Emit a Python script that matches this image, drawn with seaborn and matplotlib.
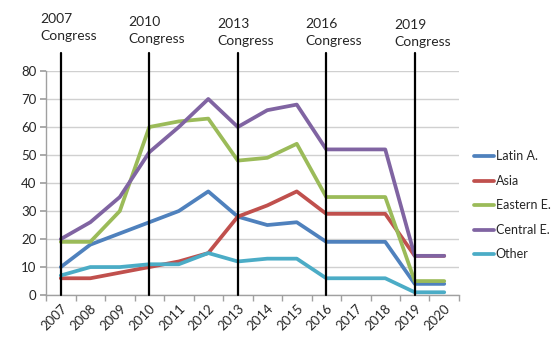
import numpy as np
import pandas as pd
import matplotlib
matplotlib.use("Agg")
import matplotlib.pyplot as plt
import seaborn as sns

# data
years = list(range(2007, 2021))
latin_a = [10, 18, 22, 26, 30, 37, 28, 25, 26, 19, 19, 19, 4, 4]
asia = [6, 6, 8, 10, 12, 15, 28, 32, 37, 29, 29, 29, 14, 14]
eastern_e = [19, 19, 30, 60, 62, 63, 48, 49, 54, 35, 35, 35, 5, 5]
central_e = [20, 26, 35, 51, 60, 70, 60, 66, 68, 52, 52, 52, 14, 14]
other = [7, 10, 10, 11, 11, 15, 12, 13, 13, 6, 6, 6, 1, 1]

series_names = ["Latin A.", "Asia", "Eastern E.", "Central E.", "Other"]
colors = ["#4F81BD", "#C0504D", "#9BBB59", "#8064A2", "#4BACC6"]
congress_years = [2007, 2010, 2013, 2016, 2019]

df = pd.DataFrame({"year": years, "Latin A.": latin_a, "Asia": asia,
                   "Eastern E.": eastern_e, "Central E.": central_e, "Other": other})
long_df = df.melt(id_vars="year", var_name="region", value_name="count")

sns.set_theme(style="white")
plt.rcParams["font.family"] = ["Lato", "DejaVu Sans"]

fig = plt.figure(figsize=(5.55, 3.38), dpi=100)
ax = fig.add_axes([0.083, 0.127, 0.744, 0.663])

sns.lineplot(data=long_df, x="year", y="count", hue="region", hue_order=series_names,
             palette=colors, linewidth=2.7, ax=ax)

ax.set_xlim(2006.5, 2020.5)
ax.set_ylim(0, 80)
ax.set_yticks(range(0, 81, 10))
ax.set_xticks(years)
ax.set_xticklabels([str(y) for y in years], rotation=45, ha="right",
                   rotation_mode="anchor", fontsize=9.5)
ax.set_xticks(np.arange(2006.5, 2021, 1), minor=True)
ax.tick_params(axis="x", which="major", length=0, pad=5)
ax.tick_params(axis="x", which="minor", length=4, color="#A0A0A0", bottom=True)
ax.tick_params(axis="y", length=4, color="#A0A0A0", labelsize=9.5, left=True, pad=3)
ax.set_xlabel("")
ax.set_ylabel("")
ax.yaxis.grid(True, color="#D0D0D0", linewidth=1)
ax.set_axisbelow(True)
for side in ["top", "right"]:
    ax.spines[side].set_visible(False)
for side in ["left", "bottom"]:
    ax.spines[side].set_color("#A0A0A0")
    ax.spines[side].set_linewidth(1)

# congress markers
text_y = [100.8, 99.8, 98.9, 98.9, 98.5]
for cy, ty in zip(congress_years, text_y):
    ax.plot([cy, cy], [0, 86.5], color="black", linewidth=1.6, clip_on=False, zorder=5)
    ax.text(cy - 0.7, ty, f"{cy}\nCongress", fontsize=10, ha="left", va="top",
            linespacing=1.5, clip_on=False)

leg = ax.legend(loc="center left", bbox_to_anchor=(1.01, 0.40), frameon=False,
                fontsize=9, handlelength=1.6, handletextpad=0.1, labelspacing=1.0)
for line in leg.get_lines():
    line.set_linewidth(2.7)

fig.savefig("out.png", dpi=100)
